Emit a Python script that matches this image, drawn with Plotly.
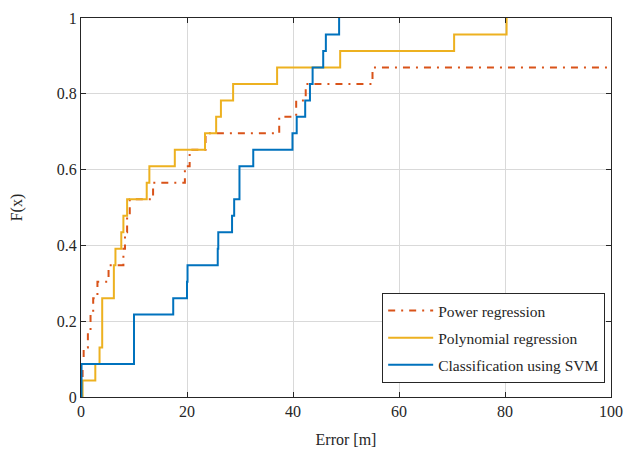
import plotly.graph_objects as go

# Sorted error samples (m) read from the empirical CDF steps (n = 23 each)
power_regression = [0.1, 0.3, 0.5, 1.3, 1.8, 2.3, 3.1, 5.2, 8.0, 8.3, 8.7, 9.2,
                    13.6, 19.6, 20.5, 23.5, 37.4, 40.6, 42.4, 55.0, 115.0, 140.0, 180.0]
polynomial_regression = [0.3, 2.7, 3.5, 4.0, 4.0, 4.0, 6.2, 6.2, 6.5, 7.6, 8.0, 8.7,
                         12.4, 12.9, 17.7, 23.4, 25.5, 26.4, 28.7, 37.0, 48.9, 70.4, 80.3]
svm_classification = [0.1, 0.1, 10.0, 10.0, 10.0, 17.4, 20.0, 20.1, 25.8, 25.9, 28.5, 28.9,
                      29.9, 29.9, 32.5, 39.9, 40.7, 42.3, 43.2, 43.7, 45.7, 46.2, 48.7]

series_names = ["Power regression", "Polynomial regression", "Classification using SVM"]
series_data = [power_regression, polynomial_regression, svm_classification]
series_colors = ["#D95319", "#EDB120", "#0072BD"]
series_dash = ["7px,6px,2px,6px", "solid", "solid"]

x_ticks = [0, 20, 40, 60, 80, 100]
y_ticks = [0, 0.2, 0.4, 0.6, 0.8, 1]
y_tick_labels = ["0", "0.2", "0.4", "0.6", "0.8", "1"]


def ecdf(values):
    v = sorted(values)
    n = len(v)
    xs = [v[0]] + v
    ys = [0.0] + [(i + 1) / n for i in range(n)]
    return xs, ys


fig = go.Figure()
for i, (name, data, col, dash) in enumerate(zip(series_names, series_data, series_colors, series_dash)):
    xs, ys = ecdf(data)
    fig.add_trace(go.Scatter(
        x=xs, y=ys, mode="lines", name=name, legendgroup=f"g{i}",
        line=dict(color=col, width=2, dash=dash, shape="hv"),
    ))

FONT = "Liberation Serif"
TXT = "#262626"
axis_common = dict(
    showgrid=True, gridcolor="#d9d9d9", gridwidth=1,
    showline=True, linecolor=TXT, linewidth=1, mirror="allticks",
    ticks="inside", ticklen=5, tickcolor=TXT,
    zeroline=False, automargin=False,
    tickfont=dict(family=FONT, size=16, color=TXT),
)

fig.update_layout(
    width=626, height=453,
    margin=dict(l=81, r=15, t=18, b=56),
    paper_bgcolor="white", plot_bgcolor="white",
    font=dict(family=FONT, size=16, color=TXT),
    showlegend=True,
    legend=dict(
        x=0.989, y=0.037, xanchor="right", yanchor="bottom",
        bgcolor="white", bordercolor=TXT, borderwidth=1,
        font=dict(family=FONT, size=15.5, color=TXT),
        tracegroupgap=4, traceorder="grouped", itemwidth=45,
    ),
    xaxis=dict(range=[0, 100], tickvals=x_ticks,
               title=dict(text="Error [m]", standoff=14,
                          font=dict(family=FONT, size=16, color=TXT)),
               **axis_common),
    yaxis=dict(range=[0, 1], tickvals=y_ticks, ticktext=y_tick_labels,
               title=dict(text="F(x)", standoff=30,
                          font=dict(family=FONT, size=16, color=TXT)),
               **axis_common),
)

fig.write_html("out.html")
